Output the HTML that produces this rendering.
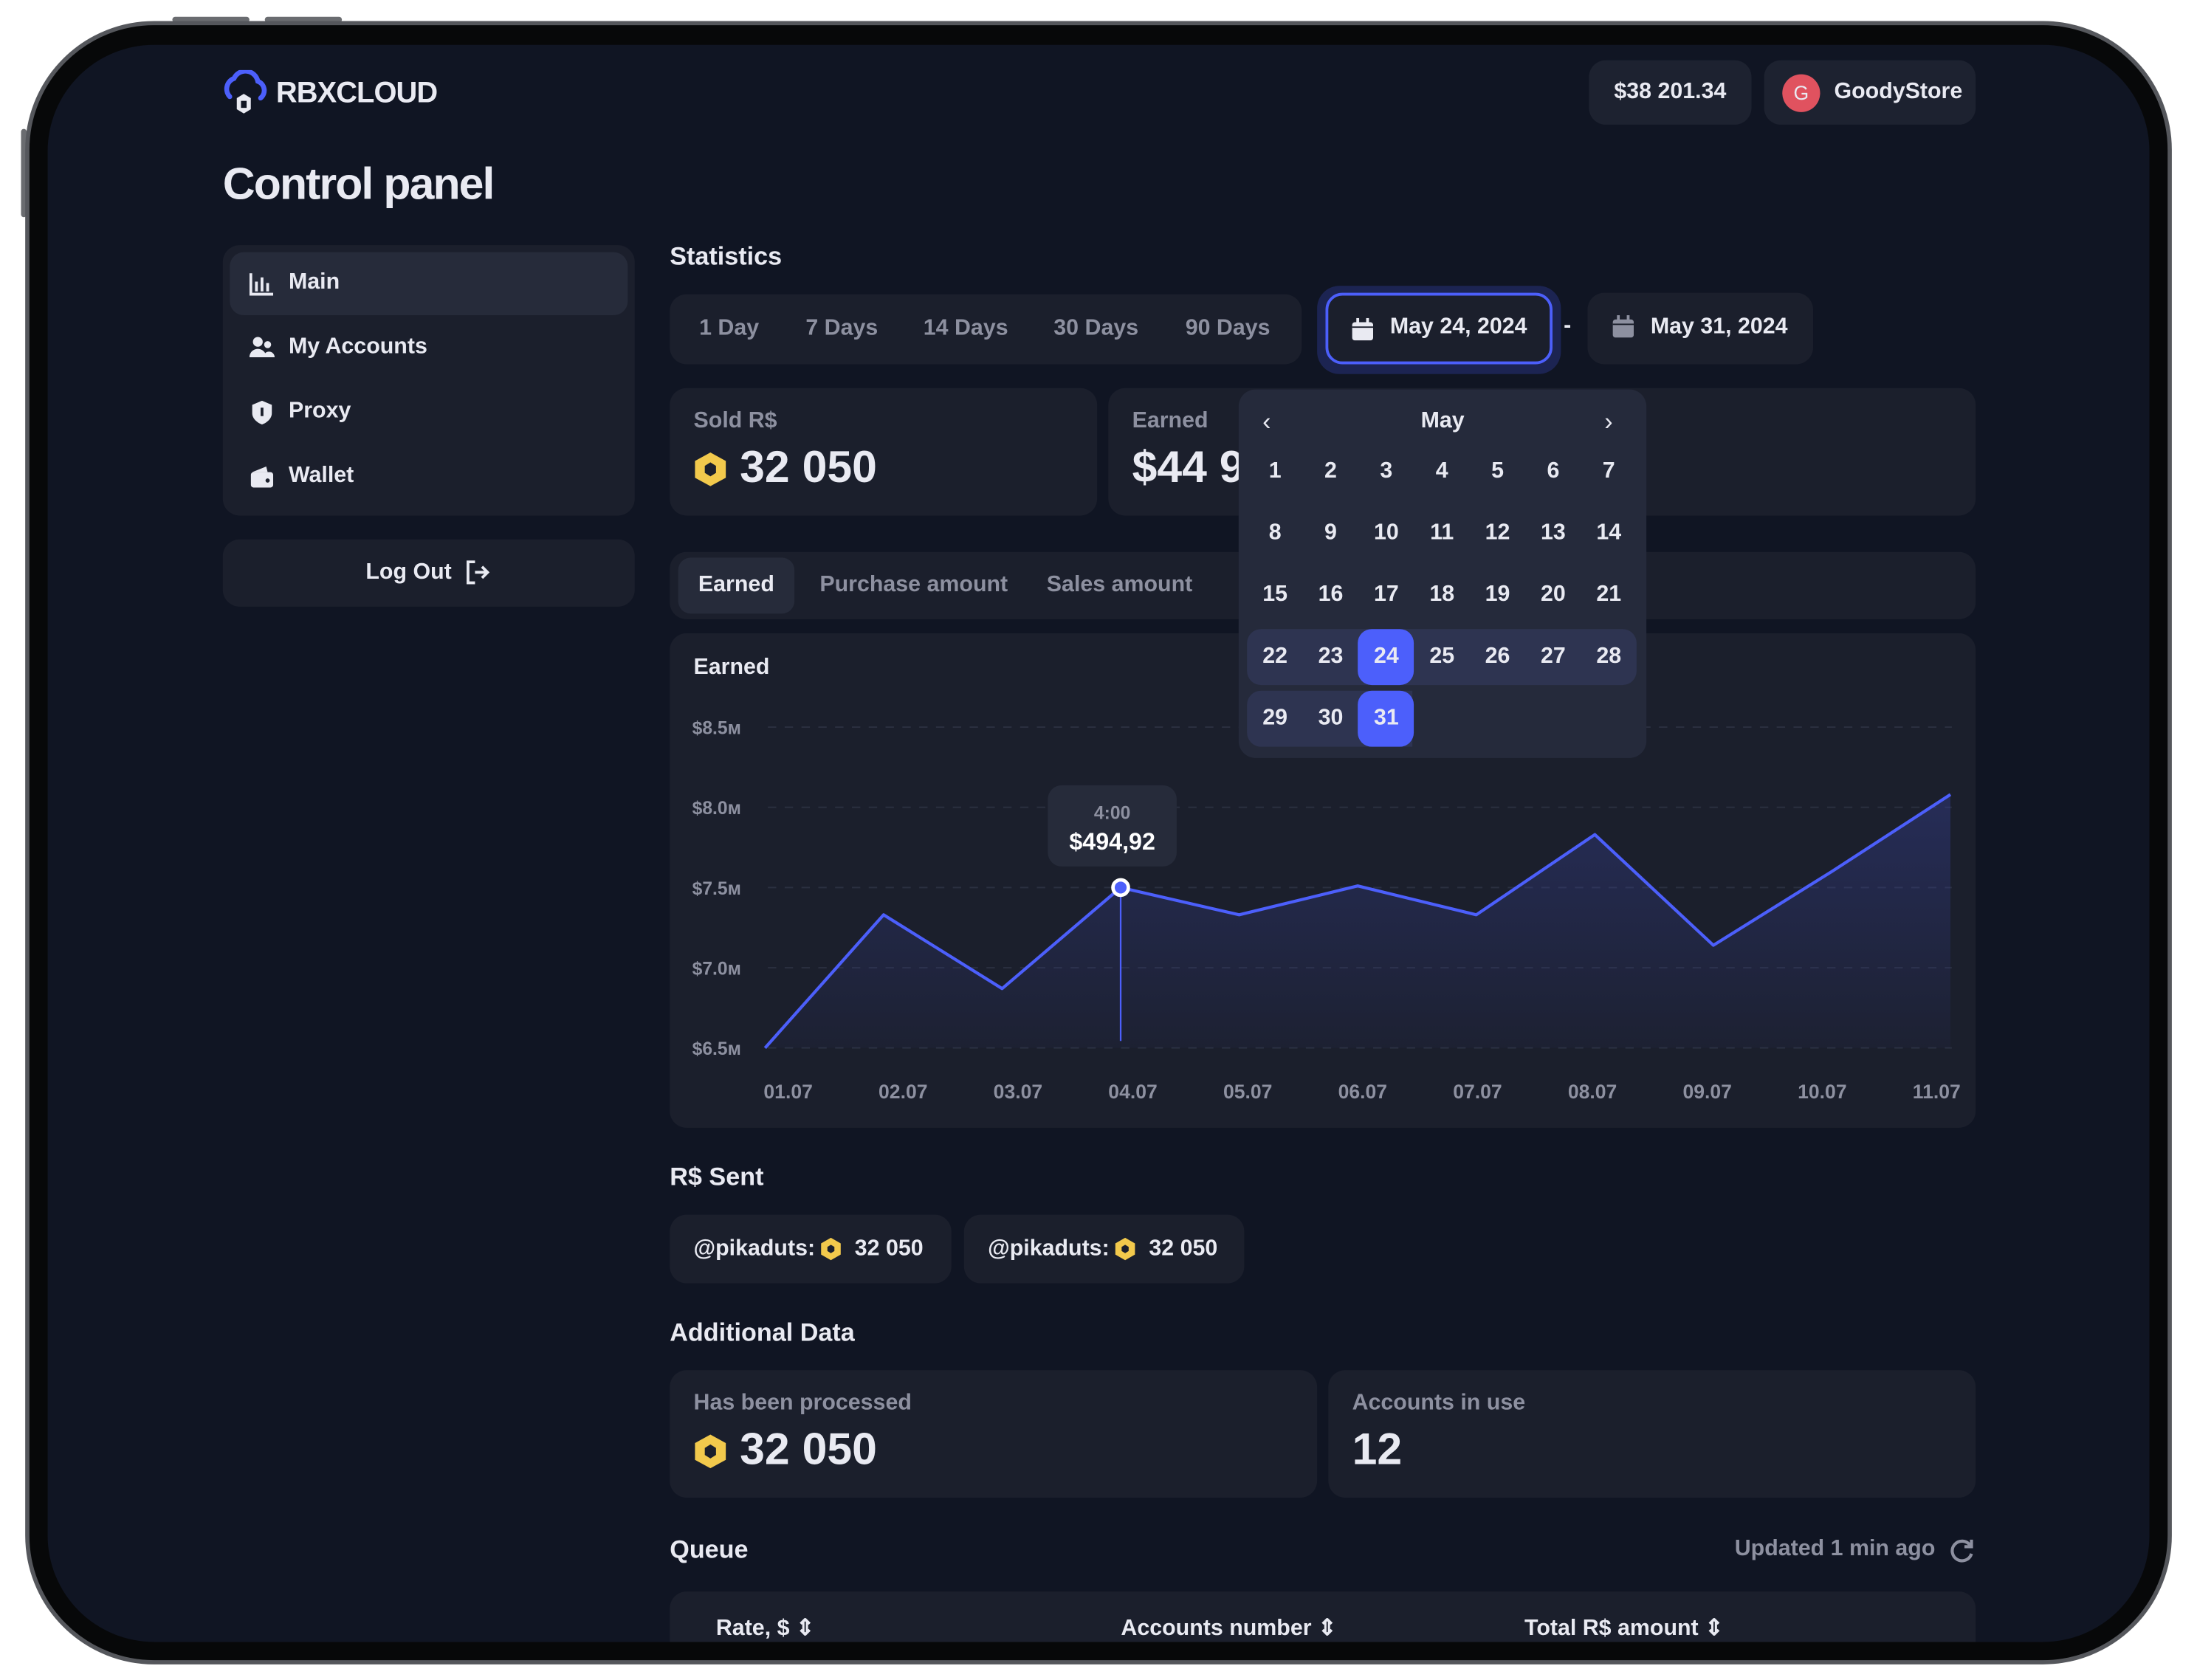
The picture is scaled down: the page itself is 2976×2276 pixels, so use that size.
<!DOCTYPE html>
<html><head><meta charset="utf-8">
<style>
*{box-sizing:border-box;margin:0;padding:0}
html,body{width:2976px;height:2276px;background:#fff;overflow:hidden}
body{font-family:"Liberation Sans",sans-serif;font-weight:bold;color:#e9eaf2}
#stage{position:absolute;left:0;top:0;width:1568px;height:1199px;transform:scale(1.898);transform-origin:0 0}
.abs{position:absolute}
.device{left:18px;top:15px;width:1532px;height:1173px;border-radius:92px;background:#070809;border:3px solid #55575c}
.screen{left:34px;top:32px;width:1500px;height:1140px;border-radius:76px 76px 0 0;background:#101523;overflow:hidden}
.card{background:#1b1f2c;border-radius:12px}
.muted{color:#8d90a0}
.btn{position:absolute;top:0;height:50px;line-height:50px;font-size:16px;color:#8d90a0}
</style></head><body>
<div id="stage">
 <div class="abs" style="left:123px;top:12px;width:55px;height:4px;background:#6a6c70;border-radius:2px"></div>
 <div class="abs" style="left:189px;top:12px;width:55px;height:4px;background:#6a6c70;border-radius:2px"></div>
 <div class="abs" style="left:15px;top:92px;width:4px;height:63px;background:#6a6c70;border-radius:2px"></div>
 <div class="abs device"></div>
 <div class="abs" style="left:34px;top:32px;width:1500px;height:1140px;border-radius:76px;background:#101523;overflow:hidden">
 <div class="abs" style="left:-34px;top:-32px;width:1568px;height:1199px">

  <!-- header -->
  <div class="abs" style="left:158px;top:50px">
   <svg width="34" height="34" viewBox="0 0 34 34"><path d="M6 19 A8 8 0 0 1 9 6 A9 9 0 0 1 26 8 A7 7 0 0 1 28 20" fill="none" stroke="#4c5ffb" stroke-width="3.5" stroke-linecap="round"/><path d="M16 17 L21 20 L21 28 L16 31 L11 28 L11 20Z" fill="#e9eaf2"/><rect x="14" y="22" width="4" height="5" fill="#101523"/></svg>
  </div>
  <div class="abs" style="left:197px;top:55px;font-size:21px;letter-spacing:-0.5px">RBXCLOUD</div>
  <div class="abs card" style="left:1134px;top:43px;width:116px;height:46px;line-height:46px;text-align:center;font-size:16px;background:#1d2230">$38 201.34</div>
  <div class="abs card" style="left:1259px;top:43px;width:151px;height:46px;background:#1d2230">
   <div class="abs" style="left:13px;top:10px;width:27px;height:27px;border-radius:50%;background:#e0525f;text-align:center;line-height:27px;font-size:14px;font-weight:normal">G</div>
   <div class="abs" style="left:50px;top:14px;font-size:16px">GoodyStore</div>
  </div>
  <div class="abs" style="left:159px;top:113px;font-size:32px;letter-spacing:-1px">Control panel</div>

  <!-- sidebar -->
  <div class="abs card" style="left:159px;top:175px;width:294px;height:193px">
   <div class="abs" style="left:5px;top:5px;width:284px;height:45px;background:#262b3a;border-radius:10px">
    <svg class="abs" style="left:14px;top:15px" width="17" height="16"><path d="M1 0V15H17" stroke="#e9eaf2" stroke-width="2" fill="none"/><rect x="4" y="6" width="2" height="7" fill="#e9eaf2"/><rect x="8" y="3" width="2" height="10" fill="#e9eaf2"/><rect x="12" y="7" width="2" height="6" fill="#e9eaf2"/></svg>
    <div class="abs" style="left:42px;top:13px;font-size:16px">Main</div></div>
   <div class="abs" style="left:5px;top:51px;width:284px;height:45px">
    <svg class="abs" style="left:14px;top:14px" width="18" height="16"><circle cx="6" cy="4" r="3.5" fill="#e9eaf2"/><path d="M0 15 A6 6 0 0 1 12 15Z" fill="#e9eaf2"/><circle cx="13" cy="6" r="2.5" fill="#e9eaf2"/><path d="M10 15 A4 4 0 0 1 18 15Z" fill="#e9eaf2"/></svg>
    <div class="abs" style="left:42px;top:13px;font-size:16px">My Accounts</div></div>
   <div class="abs" style="left:5px;top:97px;width:284px;height:45px">
    <svg class="abs" style="left:15px;top:14px" width="16" height="18"><path d="M8 0 L15 3 V9 C15 13 11 16 8 17 C5 16 1 13 1 9 V3Z" fill="#e9eaf2"/><rect x="7" y="5" width="2" height="6" fill="#1b1f2c"/></svg>
    <div class="abs" style="left:42px;top:13px;font-size:16px">Proxy</div></div>
   <div class="abs" style="left:5px;top:143px;width:284px;height:45px">
    <svg class="abs" style="left:15px;top:15px" width="16" height="15"><path d="M1 4 L11 0 L12 4Z" fill="#e9eaf2"/><rect x="0" y="4" width="16" height="11" rx="2" fill="#e9eaf2"/><circle cx="12" cy="10" r="1.5" fill="#1b1f2c"/></svg>
    <div class="abs" style="left:42px;top:13px;font-size:16px">Wallet</div></div>
  </div>
  <div class="abs card" style="left:159px;top:385px;width:294px;height:48px">
   <div class="abs" style="left:102px;top:15px;font-size:16px">Log Out</div>
   <svg class="abs" style="left:173px;top:15px" width="18" height="17"><path d="M7 1H2V16H7" stroke="#e9eaf2" stroke-width="2" fill="none"/><path d="M7 8.5H16M12 4.5L16 8.5L12 12.5" stroke="#e9eaf2" stroke-width="2" fill="none"/></svg>
  </div>

  <!-- statistics -->
  <div class="abs" style="left:478px;top:173px;font-size:18px">Statistics</div>
  <div class="abs card" style="left:478px;top:210px;width:451px;height:50px">
   <div class="btn" style="left:21px">1 Day</div>
   <div class="btn" style="left:97px">7 Days</div>
   <div class="btn" style="left:181px">14 Days</div>
   <div class="btn" style="left:274px">30 Days</div>
   <div class="btn" style="left:368px">90 Days</div>
  </div>
  <div class="abs" style="left:940px;top:204px;width:174px;height:63px;border-radius:16px;background:#1c2452"></div>
  <div class="abs card" style="left:946px;top:209px;width:162px;height:51px;border:2px solid #4c5ffb">
   <svg class="abs" style="left:17px;top:16px" width="15" height="16"><rect x="0" y="3" width="15" height="13" rx="2" fill="#e9eaf2"/><rect x="3" y="0" width="2" height="4" fill="#e9eaf2"/><rect x="10" y="0" width="2" height="4" fill="#e9eaf2"/><rect x="0" y="6" width="15" height="1" fill="#1b1f2c"/></svg>
   <div class="abs" style="left:44px;top:14px;font-size:16px">May 24, 2024</div>
  </div>
  <div class="abs" style="left:1116px;top:224px;font-size:16px">-</div>
  <div class="abs card" style="left:1133px;top:209px;width:161px;height:51px">
   <svg class="abs" style="left:18px;top:16px" width="15" height="16"><rect x="0" y="3" width="15" height="13" rx="2" fill="#8d90a0"/><rect x="3" y="0" width="2" height="4" fill="#8d90a0"/><rect x="10" y="0" width="2" height="4" fill="#8d90a0"/><rect x="0" y="6" width="15" height="1" fill="#1b1f2c"/></svg>
   <div class="abs" style="left:45px;top:16px;font-size:16px">May 31, 2024</div>
  </div>

  <div class="abs card" style="left:478px;top:277px;width:305px;height:91px">
   <div class="abs muted" style="left:17px;top:15px;font-size:16px">Sold R$</div>
   <svg class="abs" style="left:17px;top:45px" width="24" height="26"><path d="M12 1L23 7V19L12 25L1 19V7Z" fill="#f2c94c"/><path d="M12 8L16 10.5V15.5L12 18L8 15.5V10.5Z" fill="#1b1f2c"/></svg>
   <div class="abs" style="left:50px;top:38px;font-size:32px">32 050</div>
  </div>
  <div class="abs card" style="left:791px;top:277px;width:619px;height:91px">
   <div class="abs muted" style="left:17px;top:15px;font-size:16px">Earned</div>
   <div class="abs" style="left:17px;top:38px;font-size:32px">$44 950.00 (+12.5%)</div>
  </div>

  <div class="abs card" style="left:478px;top:394px;width:932px;height:48px">
   <div class="abs" style="left:6px;top:4px;width:83px;height:40px;background:#262b3a;border-radius:9px;text-align:center;line-height:40px;font-size:16px">Earned</div>
   <div class="abs muted" style="left:107px;top:15px;font-size:16px">Purchase amount</div>
   <div class="abs muted" style="left:269px;top:15px;font-size:16px">Sales amount</div>
  </div>

  <div class="abs card" style="left:478px;top:452px;width:932px;height:353px">
   <div class="abs" style="left:17px;top:16px;font-size:16px">Earned</div>
  </div>
  <svg id="chart" class="abs" style="left:0;top:0" width="1568" height="1199"></svg>

  <!-- calendar -->
  <div class="abs" style="left:884px;top:278px;width:291px;height:263px;background:#252a3b;border-radius:12px">
   <div class="abs" style="left:17px;top:13px;font-size:18px;font-weight:normal">‹</div>
   <div class="abs" style="left:130px;top:14px;font-size:16px">May</div>
   <div class="abs" style="left:261px;top:13px;font-size:18px;font-weight:normal">›</div>
   <div class="abs" style="left:6px;top:171px;width:278px;height:40px;background:#2e3451;border-radius:10px"></div>
   <div class="abs" style="left:6px;top:215px;width:118px;height:40px;background:#2e3451;border-radius:10px 0 0 10px"></div>
   <div id="days"></div>
  </div>

  <!-- R$ sent -->
  <div class="abs" style="left:478px;top:830px;font-size:18px">R$ Sent</div>
  <div class="abs card" style="left:478px;top:867px;width:201px;height:49px">
   <div class="abs" style="left:17px;top:16px;font-size:16px">@pikaduts:</div>
   <svg class="abs" style="left:107px;top:16px" width="16" height="17"><path d="M8 0.5L15 4.5V12.5L8 16.5L1 12.5V4.5Z" fill="#f2c94c"/><path d="M8 5.5L10.5 7V10L8 11.5L5.5 10V7Z" fill="#1b1f2c"/></svg>
   <div class="abs" style="left:132px;top:16px;font-size:16px">32 050</div>
  </div>
  <div class="abs card" style="left:688px;top:867px;width:200px;height:49px">
   <div class="abs" style="left:17px;top:16px;font-size:16px">@pikaduts:</div>
   <svg class="abs" style="left:107px;top:16px" width="16" height="17"><path d="M8 0.5L15 4.5V12.5L8 16.5L1 12.5V4.5Z" fill="#f2c94c"/><path d="M8 5.5L10.5 7V10L8 11.5L5.5 10V7Z" fill="#1b1f2c"/></svg>
   <div class="abs" style="left:132px;top:16px;font-size:16px">32 050</div>
  </div>

  <div class="abs" style="left:478px;top:941px;font-size:18px">Additional Data</div>
  <div class="abs card" style="left:478px;top:978px;width:462px;height:91px">
   <div class="abs muted" style="left:17px;top:15px;font-size:16px">Has been processed</div>
   <svg class="abs" style="left:17px;top:45px" width="24" height="26"><path d="M12 1L23 7V19L12 25L1 19V7Z" fill="#f2c94c"/><path d="M12 8L16 10.5V15.5L12 18L8 15.5V10.5Z" fill="#1b1f2c"/></svg>
   <div class="abs" style="left:50px;top:38px;font-size:32px">32 050</div>
  </div>
  <div class="abs card" style="left:948px;top:978px;width:462px;height:91px">
   <div class="abs muted" style="left:17px;top:15px;font-size:16px">Accounts in use</div>
   <div class="abs" style="left:17px;top:38px;font-size:32px">12</div>
  </div>

  <div class="abs" style="left:478px;top:1096px;font-size:18px">Queue</div>
  <div class="abs muted" style="left:1238px;top:1097px;font-size:16px">Updated 1 min ago</div>
  <svg class="abs" style="left:1390px;top:1097px" width="20" height="20"><path d="M16 6A7 7 0 1 0 17 12" stroke="#8d90a0" stroke-width="2.2" fill="none"/><path d="M17 2V7H12" stroke="#8d90a0" stroke-width="2.2" fill="none"/></svg>
  <div class="abs card" style="left:478px;top:1136px;width:932px;height:60px">
   <div class="abs" style="left:33px;top:16px;font-size:16px">Rate, $ ⇕</div>
   <div class="abs" style="left:322px;top:16px;font-size:16px">Accounts number ⇕</div>
   <div class="abs" style="left:610px;top:16px;font-size:16px">Total R$ amount ⇕</div>
  </div>
 </div>
 </div>
</div>
<script>
const categories=["01.07","02.07","03.07","04.07","05.07","06.07","07.07","08.07","09.07","10.07","11.07"];
const earned=[6.5,7.33,6.87,7.5,7.33,7.51,7.33,7.83,7.14,7.6,8.08];
const yTicks=[6.5,7.0,7.5,8.0,8.5];
const yTickLabels=["$6.5м","$7.0м","$7.5м","$8.0м","$8.5м"];
const highlightIndex=3;
const highlightTime="4:00";
const highlightValue="$494,92";

const NS="http://www.w3.org/2000/svg";
const svg=document.getElementById('chart');
const X0=546,X1=1392,Y0=748,Y1=519,VMIN=6.5,VMAX=8.5;
const x=i=>X0+(X1-X0)*i/(categories.length-1);
const y=v=>Y0-(v-VMIN)/(VMAX-VMIN)*(Y0-Y1);
function mk(t,a){const e=document.createElementNS(NS,t);for(const k in a)e.setAttribute(k,a[k]);svg.appendChild(e);return e;}
const defs=mk('defs',{});
defs.innerHTML='<linearGradient id="ag" x1="0" y1="0" x2="0" y2="1"><stop offset="0" stop-color="#3b46a8" stop-opacity="0.35"/><stop offset="1" stop-color="#3b46a8" stop-opacity="0.05"/></linearGradient>';
yTicks.forEach((v,i)=>{
 const g=mk('line',{x1:548,x2:1393,y1:y(v),y2:y(v),stroke:'#2b3040','stroke-dasharray':'6 6'});
 
 
 const t=mk('text',{x:494,y:y(v)+5,fill:'#8d90a0','font-size':'13','font-family':'Liberation Sans'});
 t.textContent=yTickLabels[i];
 
 
});
categories.forEach((c,i)=>{
 const t=mk('text',{x:545+82*i,y:784,fill:'#8d90a0','font-size':'14','font-family':'Liberation Sans','font-weight':'bold'});
 t.textContent=c;
 
 
});
let pts=earned.map((v,i)=>x(i)+','+y(v)).join(' ');
const area=mk('polygon',{points:pts+' '+x(earned.length-1)+','+Y0+' '+x(0)+','+Y0,fill:'url(#ag)'});


const line=mk('polyline',{points:pts,fill:'none',stroke:'#4c5ffb','stroke-width':'2.2','stroke-linejoin':'round'});


const hx=x(highlightIndex),hy=y(earned[highlightIndex]);
const vl=mk('line',{x1:hx,x2:hx,y1:hy,y2:Y0-5,stroke:'#4c5ffb','stroke-width':'1.2'});


const pt=mk('circle',{cx:hx,cy:hy,r:5.5,fill:'#4c5ffb',stroke:'#fff','stroke-width':'2.5'});


const tb=mk('rect',{x:hx-52,y:hy-73,width:92,height:58,rx:10,fill:'#262b3a'});


const t1=mk('text',{x:hx-6,y:hy-49,fill:'#8d90a0','font-size':'13','text-anchor':'middle','font-family':'Liberation Sans'});
t1.textContent=highlightTime;


const t2=mk('text',{x:hx-6,y:hy-27,fill:'#fff','font-size':'17','text-anchor':'middle','font-family':'Liberation Sans','font-weight':'bold'});
t2.textContent=highlightValue;



const days=document.getElementById('days');
for(let d=1;d<=31;d++){
 const r=Math.floor((d-1)/7),c=(d-1)%7;
 const el=document.createElement('div');
 el.className='abs';
 const cx=26+c*39.7,cy=59+r*44;
 el.style.cssText=`left:${cx-20}px;top:${cy-20}px;width:40px;height:40px;line-height:40px;text-align:center;font-size:16px;border-radius:10px;${(d==24||d==31)?'background:#4c5ffb;':''}`;
 el.textContent=d;
 
 
 days.appendChild(el);
}
</script>
</body></html>
